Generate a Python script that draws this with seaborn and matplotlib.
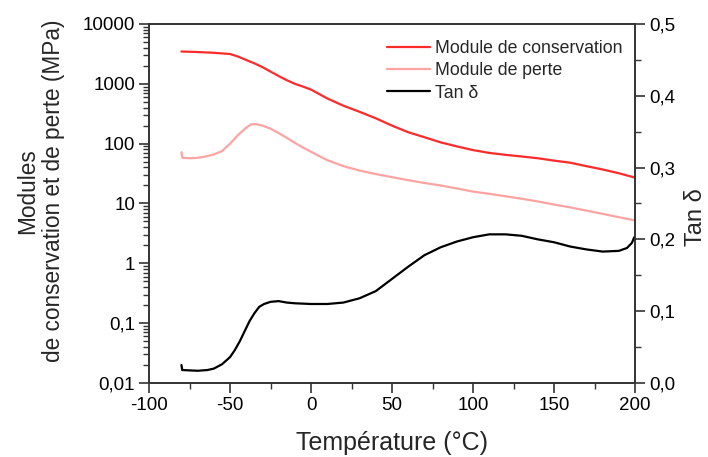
import matplotlib
matplotlib.use("Agg")
import matplotlib.pyplot as plt
import matplotlib.ticker as mticker
import seaborn as sns
import numpy as np

# ---- data ----
t_storage = [-80, -70, -60, -50, -45, -40, -35, -30, -25, -20, -15, -10, -5, 0, 10, 20, 30, 40, 50, 60,
             70, 80, 90, 100, 110, 120, 130, 140, 150, 160, 170, 180, 190, 200]
storage = [3470, 3400, 3300, 3150, 2850, 2500, 2200, 1900, 1600, 1350, 1150, 1000, 900, 800, 570, 430,
           340, 265, 200, 155, 128, 105, 90, 78, 70, 65, 61, 57, 52, 48, 42, 37, 32, 27]

t_loss = [-80, -79.5, -75, -70, -65, -60, -55, -50, -45, -40, -37, -34, -30, -25, -20, -15, -10, -5, 0,
          5, 10, 20, 30, 40, 50, 60, 70, 80, 90, 100, 110, 120, 130, 140, 150, 160, 170, 180, 190, 200]
loss = [72, 58, 57, 58, 61, 66, 75, 100, 140, 185, 210, 212, 200, 178, 150, 125, 103, 86, 73,
        62, 53, 42, 35.5, 31, 27.5, 24.5, 22, 20, 17.8, 15.8, 14.5, 13.2, 12, 10.8, 9.6, 8.6, 7.6, 6.7, 5.9, 5.2]

t_tan = [-80, -79.5, -70, -64, -60, -55, -50, -47, -44, -41, -38, -35, -32, -29, -25, -20, -15, -10, 0,
         10, 20, 30, 40, 50, 60, 70, 80, 90, 100, 110, 120, 130, 140, 150, 160, 170, 180, 190, 195, 198, 199.5]
tan_delta = [0.025, 0.018, 0.017, 0.018, 0.020, 0.026, 0.036, 0.046, 0.058, 0.072, 0.086, 0.097, 0.106,
             0.110, 0.113, 0.114, 0.112, 0.111, 0.110, 0.110, 0.112, 0.118, 0.128, 0.145, 0.162, 0.178,
             0.189, 0.197, 0.203, 0.207, 0.207, 0.205, 0.200, 0.196, 0.190, 0.186, 0.183, 0.184, 0.188,
             0.195, 0.203]

left_ticks = [0.01, 0.1, 1, 10, 100, 1000, 10000]
left_labels = ["0,01", "0,1", "1", "10", "100", "1000", "10000"]
right_ticks = [0.0, 0.1, 0.2, 0.3, 0.4, 0.5]
right_labels = ["0,0", "0,1", "0,2", "0,3", "0,4", "0,5"]
x_ticks = [-100, -50, 0, 50, 100, 150, 200]

sns.set_theme(style="ticks")
plt.rcParams["font.family"] = ["Liberation Sans", "DejaVu Sans"]

fig = plt.figure(figsize=(7.08, 4.57), dpi=100)
ax = fig.add_axes([0.2105, 0.162, 0.6865, 0.7855])
ax2 = ax.twinx()

red = "#ff2a2a"
pink = "#ffa3a3"

sns.lineplot(x=t_storage, y=storage, ax=ax, color=red, lw=1.6, label="Module de conservation", legend=False)
sns.lineplot(x=t_loss, y=loss, ax=ax, color=pink, lw=1.6, label="Module de perte", legend=False)
sns.lineplot(x=t_tan, y=tan_delta, ax=ax2, color="black", lw=1.6, label="Tan δ", legend=False)

ax.set_yscale("log")
ax.set_xlim(-100, 200)
ax.set_ylim(0.01, 10000)
ax2.set_ylim(0, 0.5)

ax.set_xticks(x_ticks)
ax.set_xticklabels([str(v) for v in x_ticks])
ax.xaxis.set_minor_locator(mticker.MultipleLocator(25))
ax.set_yticks(left_ticks)
ax.set_yticklabels(left_labels)
ax.yaxis.set_minor_locator(mticker.LogLocator(base=10, subs=np.arange(2, 10), numticks=20))
ax.yaxis.set_minor_formatter(mticker.NullFormatter())
ax2.set_yticks(right_ticks)
ax2.set_yticklabels(right_labels)
ax2.yaxis.set_minor_locator(mticker.MultipleLocator(0.05))

for a in (ax, ax2):
    for s in a.spines.values():
        s.set_color("#333333")
        s.set_linewidth(1.2)
    a.tick_params(which="major", direction="out", length=7, width=1.2, color="#333333",
                  labelsize=13.5, labelcolor="black", pad=3)
    a.tick_params(which="minor", direction="out", length=4, width=1.0, color="#333333")
    a.grid(False)

ax.set_xlabel("Température (°C)", fontsize=18, labelpad=12)
ax.set_ylabel("Modules\nde conservation et de perte (MPa)", fontsize=16.3, linespacing=1.15)
ax.yaxis.set_label_coords(-0.173, 0.535)
ax2.set_ylabel("Tan δ", fontsize=17)
ax2.yaxis.set_label_coords(1.103, 0.462)

handles = ax.get_lines()[:2] + ax2.get_lines()[:1]
labels = ["Module de conservation", "Module de perte", "Tan δ"]
ax.legend(handles, labels, loc="upper right", bbox_to_anchor=(0.995, 0.985), frameon=False,
          fontsize=12.7, handlelength=2.4, handletextpad=0.28, labelspacing=0.3, borderaxespad=0.2)

fig.savefig("out.png", dpi=100)
